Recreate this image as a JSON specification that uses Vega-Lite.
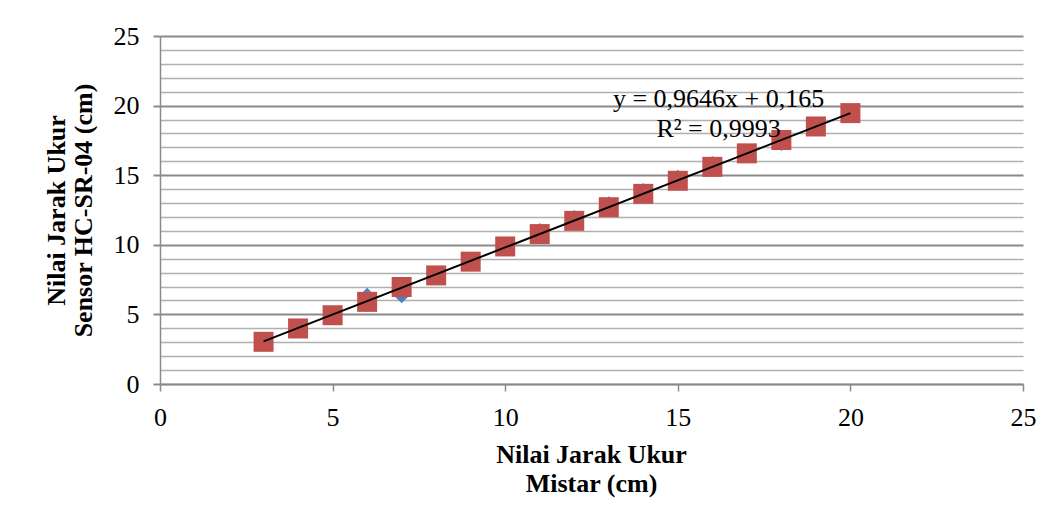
{
  "$schema": "https://vega.github.io/schema/vega-lite/v6.json",
  "autosize": {"type": "none"},
  "width": 863,
  "height": 348,
  "padding": {"left": 160, "top": 36, "right": 36, "bottom": 142},
  "background": "white",
  "config": {"view": {"stroke": null}},
  "datasets": {
    "points": [
      {"x": 3, "Blue": 3.0, "Red": 3.03},
      {"x": 4, "Blue": 4.1, "Red": 3.99},
      {"x": 5, "Blue": 5.0, "Red": 4.94},
      {"x": 6, "Blue": 6.4, "Red": 5.9},
      {"x": 7, "Blue": 6.3, "Red": 6.97},
      {"x": 8, "Blue": 8.0, "Red": 7.8},
      {"x": 9, "Blue": 9.0, "Red": 8.79},
      {"x": 10, "Blue": 10.0, "Red": 9.88},
      {"x": 11, "Blue": 11.05, "Red": 10.77},
      {"x": 12, "Blue": 12.0, "Red": 11.72},
      {"x": 13, "Blue": 12.98, "Red": 12.7},
      {"x": 14, "Blue": 13.94, "Red": 13.66},
      {"x": 15, "Blue": 14.88, "Red": 14.6},
      {"x": 16, "Blue": 15.88, "Red": 15.6},
      {"x": 17, "Blue": 16.6, "Red": 16.57},
      {"x": 18, "Blue": 17.25, "Red": 17.53},
      {"x": 19, "Blue": 18.5, "Red": 18.5},
      {"x": 20, "Blue": 19.4, "Red": 19.46}
    ],
    "trend": [
      {"x": 3, "v": 3.06},
      {"x": 20, "v": 19.46}
    ],
    "label": [
      {"x": 16.18, "v": 19.93, "text": "y = 0,9646x + 0,165\nR² = 0,9993"}
    ]
  },
  "encoding": {
    "x": {
      "field": "x",
      "type": "quantitative",
      "scale": {"domain": [0, 25], "nice": false, "zero": false},
      "axis": {
        "values": [0, 5, 10, 15, 20, 25],
        "grid": false,
        "domainColor": "#8a8a8a",
        "domainWidth": 1.5,
        "tickColor": "#8a8a8a",
        "tickWidth": 1.5,
        "tickSize": 7,
        "labelFont": "Liberation Serif",
        "labelFontSize": 26,
        "labelColor": "black",
        "labelPadding": 13,
        "labelFlush": false,
        "labelOverlap": false,
        "title": ["Nilai Jarak Ukur", "Mistar (cm)"],
        "titleFont": "Liberation Serif",
        "titleFontSize": 26,
        "titleFontWeight": "bold",
        "titleColor": "black",
        "titleLineHeight": 29,
        "titleBaseline": "alphabetic",
        "titleAnchor": "middle",
        "titleX": 431,
        "titleY": 78
      }
    },
    "y": {
      "field": "v",
      "type": "quantitative",
      "scale": {"domain": [0, 25], "nice": false, "zero": false},
      "axis": {
        "values": [0, 1, 2, 3, 4, 5, 6, 7, 8, 9, 10, 11, 12, 13, 14, 15, 16, 17, 18, 19, 20, 21, 22, 23, 24, 25],
        "grid": true,
        "gridColor": {"condition": {"test": "datum.value % 5 === 0", "value": "#8a8a8a"}, "value": "#b0b0b0"},
        "gridWidth": {"condition": {"test": "datum.value % 5 === 0", "value": 2}, "value": 1.3},
        "labelExpr": "datum.value % 5 === 0 ? datum.label : ''",
        "tickOpacity": {"condition": {"test": "datum.value % 5 === 0", "value": 1}, "value": 0},
        "tickColor": "#8a8a8a",
        "tickWidth": 2,
        "tickSize": 7,
        "domainColor": "#8a8a8a",
        "domainWidth": 1.5,
        "labelFont": "Liberation Serif",
        "labelFontSize": 26,
        "labelColor": "black",
        "labelPadding": 14,
        "labelOverlap": false,
        "labelFlush": false,
        "labelBound": false,
        "title": ["Nilai Jarak Ukur", "Sensor HC-SR-04 (cm)"],
        "titleFont": "Liberation Serif",
        "titleFontSize": 26,
        "titleFontWeight": "bold",
        "titleColor": "black",
        "titleLineHeight": 27,
        "titleAngle": -90,
        "titleBaseline": "alphabetic",
        "titleAlign": "center",
        "titleX": -96,
        "titleY": 174
      }
    }
  },
  "layer": [
    {
      "data": {"name": "points"},
      "transform": [
        {"fold": ["Blue", "Red"], "as": ["series", "v"]},
        {"filter": "datum.series === 'Blue'"}
      ],
      "mark": {"type": "point", "shape": "diamond", "filled": true, "color": "#4F81BD", "opacity": 1, "size": 200}
    },
    {
      "data": {"name": "points"},
      "transform": [
        {"fold": ["Blue", "Red"], "as": ["series", "v"]},
        {"filter": "datum.series === 'Red'"}
      ],
      "mark": {"type": "square", "color": "#C0504D", "opacity": 1, "size": 400}
    },
    {
      "data": {"name": "trend"},
      "mark": {"type": "line", "color": "black", "strokeWidth": 2}
    },
    {
      "data": {"name": "label"},
      "mark": {"type": "text", "font": "Liberation Serif", "fontSize": 26, "color": "black", "align": "center", "baseline": "alphabetic", "lineBreak": "\n", "lineHeight": 30},
      "encoding": {"text": {"field": "text", "type": "nominal"}}
    }
  ]
}
